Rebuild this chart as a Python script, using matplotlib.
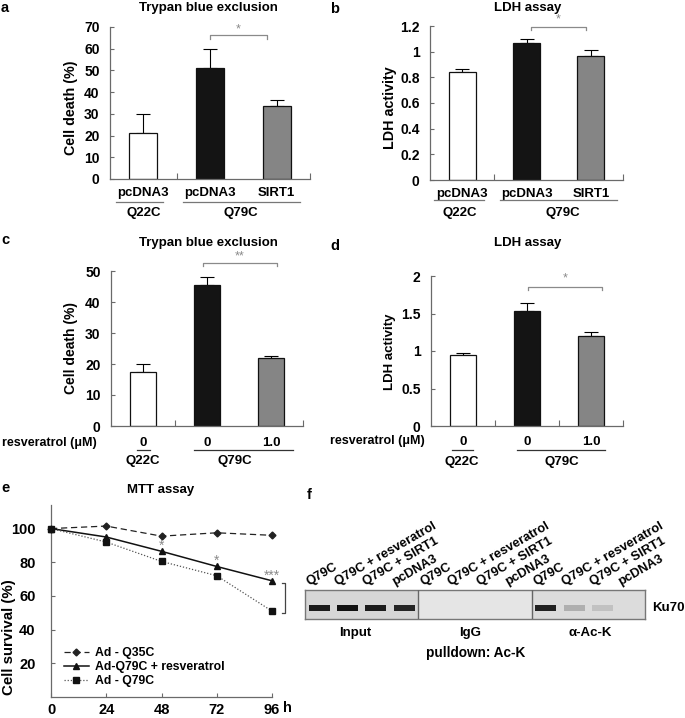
import matplotlib
matplotlib.use('Agg')
import matplotlib.pyplot as plt
import matplotlib.transforms as mtrans
import numpy as np

plt.rcParams['font.family'] = ['Liberation Sans', 'DejaVu Sans']
plt.rcParams['font.weight'] = 'bold'
plt.rcParams['font.size'] = 9

# ---------------- data ----------------
ab_cats = ['pcDNA3', 'pcDNA3', 'SIRT1']
a_vals = [21, 51, 33.5]
a_err = [9, 9, 3]
b_vals = [0.84, 1.07, 0.97]
b_err = [0.025, 0.025, 0.04]
cd_cats = ['0', '0', '1.0']
c_vals = [17.5, 45.5, 22]
c_err = [2.5, 2.5, 0.7]
d_vals = [0.95, 1.53, 1.2]
d_err = [0.03, 0.11, 0.05]
groups = ['Q22C', 'Q79C']

e_hours = [0, 24, 48, 72, 96]
e_q35 = [100, 101.5, 95.5, 97.5, 96]
e_res = [100, 95, 86.5, 77.5, 69]
e_q79 = [100, 92, 80.5, 72, 51]
e_stars = ['', '', '*', '*', '***']
e_labels = ['Ad - Q35C', 'Ad-Q79C + resveratrol', 'Ad - Q79C']

blot_lanes = ['Q79C', 'Q79C + resveratrol', 'Q79C + SIRT1', 'pcDNA3']
blot_sections = ['Input', 'IgG', 'α-Ac-K']
band_input = [0.95, 1.0, 0.95, 0.9]
band_igg = [0.0, 0.0, 0.0, 0.0]
band_ack = [0.92, 0.22, 0.13, 0.0]

# ---------------- layout helpers ----------------
W, H = 685, 718
fig = plt.figure(figsize=(W / 100, H / 100), dpi=100)
AX_COL = '#6a6a6a'
STAR_COL = '#8a8a8a'
BAR_COLORS = ['white', '#141414', '#858585']


def add_ax(x0, y0, x1, y1):
    return fig.add_axes([x0 / W, 1 - y1 / H, (x1 - x0) / W, (y1 - y0) / H])


def fx(px):
    return px / W


def fy(py):
    return 1 - py / H


def ftext(px, py, s, **kw):
    kw.setdefault('ha', 'center')
    kw.setdefault('va', 'center')
    return fig.text(fx(px), fy(py), s, **kw)


def style_axes(ax, ysize=10, ypad=7.5):
    for sp in ['top', 'right']:
        ax.spines[sp].set_visible(False)
    for sp in ['left', 'bottom']:
        ax.spines[sp].set_color(AX_COL)
        ax.spines[sp].set_linewidth(0.9)
    ax.tick_params(axis='both', which='both', direction='in', color=AX_COL, width=0.8)
    ax.tick_params(axis='y', length=3, pad=ypad, labelsize=ysize)


def bar_panel(ax, vals, errs, cats, ylim, yticks, ylabels, minor_ticks, label_pad):
    x = np.arange(1, 4)
    ax.errorbar(x, vals, yerr=[np.zeros(3), errs], fmt='none', ecolor='black',
                elinewidth=0.8, capsize=5, capthick=0.8, zorder=1)
    ax.bar(x, vals, width=0.42, color=BAR_COLORS, edgecolor='#111111', linewidth=0.9, zorder=2)
    ax.set_xlim(0.5, 3.5)
    ax.set_ylim(*ylim)
    ax.set_yticks(yticks)
    ax.set_yticklabels(ylabels)
    ax.set_xticks(x)
    ax.set_xticklabels(cats, fontsize=9.5)
    ax.set_xticks(minor_ticks, minor=True)
    style_axes(ax)
    ax.tick_params(axis='x', which='major', length=0, pad=label_pad)
    ax.tick_params(axis='x', which='minor', length=4)


def group_labels(ax, line_y, text_y, spans, centers, col='#777777'):
    tr = mtrans.blended_transform_factory(ax.transData, fig.transFigure)
    for (x0, x1), xc, g in zip(spans, centers, groups):
        ax.plot([x0, x1], [fy(line_y), fy(line_y)], transform=tr, color=col,
                lw=0.9, clip_on=False)
        ax.text(xc, fy(text_y), g, transform=tr, ha='center', va='center', fontsize=9.5)


def bracket(ax, x0, x1, y, drop, star, star_y):
    ax.plot([x0, x0, x1, x1], [y - drop, y, y, y - drop], color=STAR_COL, lw=0.9,
            clip_on=False)
    ax.text((x0 + x1) / 2, star_y, star, ha='center', va='center', color=STAR_COL,
            fontsize=9, fontweight='normal')


# ---------------- panel a ----------------
ax_a = add_ax(110, 27, 310, 179)
bar_panel(ax_a, a_vals, a_err, ab_cats, (0, 70), np.arange(0, 71, 10),
          [str(v) for v in range(0, 71, 10)], [1.5, 3.5], 6)
group_labels(ax_a, 202, 213, [(0.59, 1.29), (1.59, 3.35)], [1.0, 2.46])
bracket(ax_a, 2.0, 2.85, 66.3, 1.6, '*', 69)
ftext(208, 8, 'Trypan blue exclusion', fontsize=9.5)
ftext(71, 108, 'Cell death (%)', rotation=90, fontsize=10.3)
ftext(5, 8, 'a', fontsize=10.5)

# ---------------- panel b ----------------
ax_b = add_ax(430, 26, 623, 180)
bar_panel(ax_b, b_vals, b_err, ab_cats, (0, 1.2), np.arange(0, 1.21, 0.2),
          ['0', '0.2', '0.4', '0.6', '0.8', '1', '1.2'], [1.5, 3.5], 6)
group_labels(ax_b, 200, 213, [(0.56, 1.34), (1.59, 3.4)], [0.97, 2.56])
bracket(ax_b, 2.07, 2.92, 1.19, 0.025, '*', 1.255)
ftext(528, 8, 'LDH assay', fontsize=9.5)
ftext(390, 108, 'LDH activity', rotation=90, fontsize=10.3)
ftext(335, 9, 'b', fontsize=10.5)

# ---------------- panel c ----------------
ax_c = add_ax(111, 271, 303, 426)
bar_panel(ax_c, c_vals, c_err, cd_cats, (0, 50), np.arange(0, 51, 10),
          [str(v) for v in range(0, 51, 10)], [1.5, 3.5], 8)
tr_c = mtrans.blended_transform_factory(ax_c.transData, fig.transFigure)
ax_c.plot([0.91, 1.11], [fy(450), fy(450)], transform=tr_c, color='#333333', lw=0.9, clip_on=False)
ax_c.plot([1.8, 3.34], [fy(450), fy(450)], transform=tr_c, color='#333333', lw=0.9, clip_on=False)
ax_c.text(1.0, fy(461), groups[0], transform=tr_c, ha='center', va='center', fontsize=9.5)
ax_c.text(2.44, fy(461), groups[1], transform=tr_c, ha='center', va='center', fontsize=9.5)
bracket(ax_c, 1.94, 3.09, 52.6, 1.0, '**', 54.6)
ftext(208, 243, 'Trypan blue exclusion', fontsize=9.5)
ftext(71, 348, 'Cell death (%)', rotation=90, fontsize=10)
ftext(5, 240, 'c', fontsize=10.5)
ftext(97, 443, 'resveratrol (μM)', ha='right', fontsize=9)

# ---------------- panel d ----------------
ax_d = add_ax(431, 276, 623, 426)
bar_panel(ax_d, d_vals, d_err, cd_cats, (0, 2), [0, 0.5, 1, 1.5, 2],
          ['0', '0.5', '1', '1.5', '2'], [1.5, 2.5, 3.5], 7)
tr_d = mtrans.blended_transform_factory(ax_d.transData, fig.transFigure)
ax_d.plot([0.83, 1.16], [fy(450), fy(450)], transform=tr_d, color='#333333', lw=0.9, clip_on=False)
ax_d.plot([1.84, 3.22], [fy(450), fy(450)], transform=tr_d, color='#333333', lw=0.9, clip_on=False)
ax_d.text(0.98, fy(462), groups[0], transform=tr_d, ha='center', va='center', fontsize=9.5)
ax_d.text(2.55, fy(462), groups[1], transform=tr_d, ha='center', va='center', fontsize=9.5)
bracket(ax_d, 2.02, 3.17, 1.85, 0.04, '*', 1.965)
ftext(528, 243, 'LDH assay', fontsize=9.5)
ftext(390, 352, 'LDH activity', rotation=90, fontsize=9.5)
ftext(335, 246, 'd', fontsize=10.5)
ftext(425, 441, 'resveratrol (μM)', ha='right', fontsize=9)

# ---------------- panel e ----------------
ax_e = add_ax(51, 505, 272, 697)
ax_e.plot(e_hours, e_q35, linestyle=(0, (5, 3)), color='#222222', lw=0.9, marker='D',
          markersize=3.5, label=e_labels[0], clip_on=False, zorder=3)
ax_e.plot(e_hours, e_res, linestyle='-', color='#111111', lw=1.1, marker='^',
          markersize=5, label=e_labels[1], clip_on=False, zorder=3)
ax_e.plot(e_hours, e_q79, linestyle=(0, (1, 1.5)), color='#555555', lw=0.9, marker='s',
          markersize=4, markerfacecolor='#111111', markeredgecolor='#111111',
          label=e_labels[2], clip_on=False, zorder=3)
for h, r, s in zip(e_hours, e_res, e_stars):
    if s:
        ax_e.text(h, r + 3.2, s, ha='center', va='center', color=STAR_COL,
                  fontsize=10, fontweight='normal', zorder=4)
ax_e.set_xlim(0, 96)
ax_e.set_ylim(0, 114)
ax_e.set_xticks(e_hours)
ax_e.set_xticklabels([str(h) for h in e_hours], fontsize=10.5)
ax_e.set_yticks([20, 40, 60, 80, 100])
style_axes(ax_e, ysize=10.5, ypad=11)
ax_e.tick_params(axis='x', length=3, pad=4)
# bracket comparing 96 h points
bx = 101.6
ax_e.plot([bx - 1.3, bx, bx, bx - 1.3],
          [e_res[-1] - 1.4, e_res[-1] - 1.4, e_q79[-1] - 1.0, e_q79[-1] - 1.0],
          color='#444444', lw=0.9, clip_on=False)
ax_e.legend(loc='lower left', bbox_to_anchor=(0.06, 0.05), frameon=False, fontsize=8.8,
            handlelength=2.0, handletextpad=0.5, labelspacing=0.18, borderpad=0,
            borderaxespad=0)
ftext(161, 490, 'MTT assay', fontsize=9.5)
ftext(9, 637, 'Cell survival (%)', rotation=90, fontsize=10.8)
ftext(5, 488, 'e', fontsize=10.5)
ftext(287, 708, 'h', fontsize=10.5)

# ---------------- panel f (blot) ----------------
ax_f = add_ax(305, 590, 645, 619)
ax_f.set_xlim(0, 12)
ax_f.set_ylim(0, 1)
sec_bg = ['#d6d6d6', '#e5e5e5', '#dcdcdc']
for i, c in enumerate(sec_bg):
    ax_f.axvspan(4 * i, 4 * i + 4, color=c, zorder=0)
for xv in [4, 8]:
    ax_f.axvline(xv, color='#666666', lw=1.0, zorder=3)
lane_x = np.arange(12) + 0.5
intens = band_input + band_igg + band_ack
for xl, it in zip(lane_x, intens):
    if it > 0:
        ax_f.bar(xl, 0.22, bottom=0.28, width=0.75, color='#111111', alpha=it,
                 edgecolor='none', zorder=2)
ax_f.set_xticks([])
ax_f.set_yticks([])
for sp in ax_f.spines.values():
    sp.set_color('#777777')
    sp.set_linewidth(1.0)
tr_f = mtrans.blended_transform_factory(ax_f.transData, fig.transFigure)
for i, xl in enumerate(lane_x):
    ax_f.text(xl - 0.35, fy(585), blot_lanes[i % 4], transform=tr_f, rotation=30,
              rotation_mode='anchor', ha='left', va='baseline', fontsize=9.3)
ftext(355, 633, blot_sections[0], fontsize=9.5)
ftext(470, 633, blot_sections[1], fontsize=9.5)
ftext(590, 633, blot_sections[2], fontsize=9.5)
ftext(476, 653, 'pulldown: Ac-K', fontsize=9.8)
ftext(668, 608, 'Ku70', fontsize=9.5)
ftext(309, 495, 'f', fontsize=10.5)

fig.savefig('out.png', dpi=100)
